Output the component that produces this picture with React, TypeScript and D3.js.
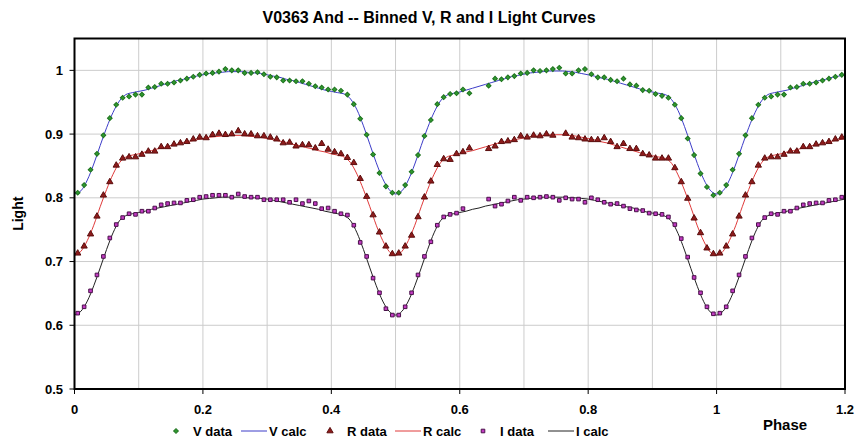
import React, { useEffect, useRef } from 'react';
import * as d3 from 'd3';

// binned observations, one value per 0.01 phase bin (bin centres 0.005 .. 0.995)
const vData = [
  0.808, 0.820, 0.844, 0.869, 0.898, 0.925, 0.946, 0.957, 0.959, 0.962,
  0.962, 0.973, 0.974, 0.979, 0.979, 0.981, 0.984, 0.987, 0.990, 0.993,
  0.995, 0.996, 0.998, 1.002, 1.000, 1.000, 0.996, 0.996, 0.997, 0.994,
  0.990, 0.989, 0.984, 0.984, 0.983, 0.983, 0.979, 0.975, 0.973, 0.970,
  0.970, 0.968, 0.962, 0.947, 0.924, 0.899, 0.868, 0.839, 0.818, 0.808,
  0.808, 0.820, 0.841, 0.867, 0.897, 0.922, 0.947, 0.958, 0.963, 0.964,
  0.970, 0.964, null, null, 0.976, 0.987, 0.986, 0.989, 0.991, 0.995,
  0.996, 1.000, 0.999, 1.000, 1.002, 1.004, 0.995, 0.995, 1.000, 1.002,
  0.994, 0.989, 0.989, 0.985, 0.983, 0.987, 0.978, 0.976, 0.969, 0.968,
  0.963, 0.960, 0.957, 0.946, 0.925, 0.893, 0.867, 0.838, 0.817, 0.804,
];
const rData = [
  0.713, 0.724, 0.743, 0.771, 0.804, 0.825, 0.851, 0.862, 0.864, 0.864,
  0.868, 0.873, 0.873, 0.880, 0.880, 0.884, 0.886, 0.888, 0.892, 0.895,
  0.894, 0.899, 0.901, 0.899, 0.900, 0.905, 0.900, 0.900, 0.897, 0.897,
  0.895, 0.892, 0.886, 0.887, 0.881, 0.883, 0.883, 0.878, 0.885, 0.876,
  0.872, 0.869, 0.863, 0.855, 0.830, 0.802, 0.773, 0.746, 0.724, 0.712,
  0.713, 0.724, 0.741, 0.770, 0.801, 0.826, 0.852, 0.861, 0.860, 0.869,
  0.872, 0.878, null, null, 0.877, 0.881, 0.888, 0.889, 0.891, 0.897,
  0.895, 0.898, 0.897, 0.900, 0.898, null, 0.901, 0.895, 0.894, 0.892,
  0.891, 0.891, 0.894, 0.888, 0.880, 0.885, 0.877, 0.877, 0.869, 0.867,
  0.862, 0.862, 0.862, 0.847, 0.825, 0.799, 0.768, 0.745, 0.721, 0.712,
];
const iData = [
  0.619, 0.629, 0.654, 0.679, 0.708, 0.737, 0.758, 0.769, 0.775, 0.774,
  0.779, 0.779, 0.784, 0.789, 0.791, 0.792, 0.792, 0.796, 0.797, 0.801,
  0.802, 0.804, 0.804, 0.804, 0.801, 0.806, 0.802, 0.801, 0.801, 0.797,
  0.797, 0.797, 0.797, 0.793, 0.797, 0.791, 0.795, 0.791, 0.783, 0.784,
  0.779, 0.775, 0.773, 0.757, 0.730, 0.708, 0.674, 0.651, 0.626, 0.616,
  0.616, 0.629, 0.651, 0.679, 0.708, 0.731, 0.757, 0.770, 0.774, 0.776,
  0.783, null, null, null, 0.798, 0.787, 0.790, 0.795, 0.801, 0.796,
  0.801, 0.800, 0.801, 0.802, 0.801, 0.796, 0.800, 0.798, 0.798, 0.793,
  0.800, 0.797, 0.793, 0.790, 0.791, 0.787, 0.783, 0.781, 0.780, 0.776,
  0.775, 0.774, 0.770, 0.758, 0.736, 0.707, 0.675, 0.651, 0.629, 0.618,
];

// model light curves at phase 0.00 .. 1.00, step 0.01
const vCalc = [
  0.806, 0.811, 0.828, 0.853, 0.882, 0.910, 0.934, 0.952, 0.962, 0.965,
  0.967, 0.969, 0.972, 0.975, 0.978, 0.981, 0.984, 0.986, 0.989, 0.991,
  0.993, 0.995, 0.996, 0.997, 0.998, 0.998, 0.998, 0.997, 0.996, 0.995,
  0.993, 0.991, 0.989, 0.986, 0.984, 0.981, 0.978, 0.975, 0.972, 0.969,
  0.967, 0.965, 0.963, 0.955, 0.938, 0.913, 0.884, 0.855, 0.830, 0.813,
  0.806, 0.811, 0.828, 0.853, 0.882, 0.910, 0.934, 0.952, 0.961, 0.964,
  0.966, 0.969, 0.972, 0.975, 0.978, 0.981, 0.984, 0.987, 0.990, 0.992,
  0.994, 0.996, 0.997, 0.998, 0.999, 0.999, 0.999, 0.998, 0.997, 0.995,
  0.993, 0.991, 0.988, 0.986, 0.983, 0.980, 0.977, 0.974, 0.971, 0.968,
  0.966, 0.964, 0.962, 0.954, 0.937, 0.912, 0.883, 0.854, 0.829, 0.812,
  0.806,
];
const rCalc = [
  0.710, 0.716, 0.733, 0.757, 0.786, 0.813, 0.837, 0.855, 0.864, 0.867,
  0.869, 0.872, 0.874, 0.877, 0.879, 0.882, 0.884, 0.887, 0.889, 0.891,
  0.893, 0.895, 0.896, 0.897, 0.898, 0.898, 0.898, 0.897, 0.896, 0.895,
  0.893, 0.891, 0.889, 0.887, 0.884, 0.882, 0.879, 0.877, 0.874, 0.872,
  0.869, 0.867, 0.864, 0.855, 0.837, 0.813, 0.786, 0.757, 0.733, 0.716,
  0.710, 0.716, 0.733, 0.757, 0.786, 0.813, 0.837, 0.855, 0.864, 0.867,
  0.869, 0.872, 0.874, 0.877, 0.880, 0.883, 0.886, 0.888, 0.890, 0.892,
  0.894, 0.896, 0.897, 0.898, 0.899, 0.899, 0.899, 0.898, 0.897, 0.895,
  0.893, 0.891, 0.888, 0.886, 0.883, 0.880, 0.877, 0.874, 0.871, 0.868,
  0.866, 0.864, 0.862, 0.854, 0.836, 0.812, 0.785, 0.756, 0.732, 0.715,
  0.710,
];
const iCalc = [
  0.616, 0.622, 0.638, 0.662, 0.690, 0.719, 0.745, 0.764, 0.772, 0.775,
  0.777, 0.779, 0.782, 0.784, 0.786, 0.788, 0.790, 0.792, 0.794, 0.796,
  0.798, 0.799, 0.800, 0.801, 0.801, 0.801, 0.801, 0.800, 0.800, 0.799,
  0.798, 0.796, 0.794, 0.792, 0.790, 0.788, 0.786, 0.784, 0.782, 0.779,
  0.777, 0.775, 0.772, 0.764, 0.745, 0.719, 0.690, 0.662, 0.638, 0.622,
  0.616, 0.622, 0.638, 0.662, 0.690, 0.719, 0.745, 0.764, 0.772, 0.775,
  0.777, 0.779, 0.782, 0.784, 0.787, 0.789, 0.791, 0.793, 0.795, 0.797,
  0.798, 0.799, 0.800, 0.801, 0.801, 0.801, 0.801, 0.800, 0.800, 0.799,
  0.798, 0.796, 0.794, 0.792, 0.790, 0.788, 0.786, 0.784, 0.781, 0.778,
  0.776, 0.774, 0.771, 0.763, 0.744, 0.718, 0.689, 0.661, 0.637, 0.621,
  0.616,
];

const binStep = 0.01;
const xTicks = [0, 0.2, 0.4, 0.6, 0.8, 1, 1.2];
const yTicks = [0.5, 0.6, 0.7, 0.8, 0.9, 1];
const xGrid = [0.1, 0.2, 0.3, 0.4, 0.5, 0.6, 0.7, 0.8, 0.9, 1, 1.1];
const yGrid = [0.6, 0.7, 0.8, 0.9, 1];

const FONT = '"Liberation Sans", Arial, sans-serif';
const W = 858, H = 444;
const plot = { left: 74.5, right: 845, top: 38.5, bottom: 389 };

// the phased plot repeats the first 0.2 of the cycle after phase 1
const extendData = (vals: (number | null)[]) =>
  vals.concat(vals.slice(0, 20)).map((v, i) => ({ p: binStep / 2 + i * binStep, v }));
const extendCalc = (vals: number[]) =>
  vals.concat(vals.slice(1, 21)).map((v, i) => ({ p: i * binStep, v }));

const series = [
  { name: 'V', data: extendData(vData), calc: extendCalc(vCalc), sym: d3.symbolSquare, rot: 45, size: 11, fill: '#2f9a2f', stroke: '#1f731f', line: '#3c3cc8' },
  { name: 'R', data: extendData(rData), calc: extendCalc(rCalc), sym: d3.symbolTriangle, rot: 0, size: 17, fill: '#8e1b1b', stroke: '#5a0d0d', line: '#e03a3a' },
  { name: 'I', data: extendData(iData), calc: extendCalc(iCalc), sym: d3.symbolSquare, rot: 0, size: 13, fill: '#c23ac2', stroke: '#4a124a', line: '#222222' },
];

const App: React.FC = () => {
  const svgRef = useRef<SVGSVGElement>(null);

  useEffect(() => {
    if (!svgRef.current) return;
    const svg = d3.select(svgRef.current);
    svg.selectAll('*').remove();

    const x = d3.scaleLinear().domain([0, 1.2]).range([plot.left, plot.right]);
    const y = d3.scaleLinear().domain([0.5, 1.05]).range([plot.bottom, plot.top]);

    svg.append('rect').attr('width', W).attr('height', H).attr('fill', '#fff');

    // grid
    const grid = svg.append('g').attr('stroke', '#cccccc').attr('stroke-width', 1);
    grid.selectAll('line.gx').data(xGrid).join('line')
      .attr('x1', d => x(d)).attr('x2', d => x(d))
      .attr('y1', plot.top).attr('y2', plot.bottom);
    grid.selectAll('line.gy').data(yGrid).join('line')
      .attr('x1', plot.left).attr('x2', plot.right)
      .attr('y1', d => y(d)).attr('y2', d => y(d));

    // calc curves
    const line = d3.line<{ p: number; v: number }>()
      .x(d => x(d.p)).y(d => y(d.v))
      .curve(d3.curveMonotoneX);
    series.forEach(s => {
      svg.append('path')
        .attr('d', line(s.calc))
        .attr('fill', 'none')
        .attr('stroke', s.line)
        .attr('stroke-width', 1);
    });

    // data markers
    series.forEach(s => {
      const sym = d3.symbol().type(s.sym).size(s.size);
      svg.append('g').selectAll('path')
        .data(s.data.filter(d => d.v != null))
        .join('path')
        .attr('transform', d => `translate(${x(d.p)},${y(d.v as number)}) rotate(${s.rot})`)
        .attr('d', sym())
        .attr('fill', s.fill)
        .attr('stroke', s.stroke)
        .attr('stroke-width', 1);
    });

    // frame
    svg.append('rect')
      .attr('x', plot.left).attr('y', plot.top)
      .attr('width', plot.right - plot.left).attr('height', plot.bottom - plot.top)
      .attr('fill', 'none').attr('stroke', '#000').attr('stroke-width', 2);

    // ticks and labels
    const axes = svg.append('g').attr('font-family', FONT).attr('font-weight', 'bold').attr('fill', '#000');
    axes.selectAll('line.tx').data(xTicks).join('line')
      .attr('x1', d => x(d)).attr('x2', d => x(d))
      .attr('y1', plot.bottom).attr('y2', plot.bottom + 5)
      .attr('stroke', '#000');
    axes.selectAll('text.tx').data(xTicks).join('text')
      .attr('x', d => x(d)).attr('y', 414)
      .attr('text-anchor', 'middle').attr('font-size', 13)
      .text(d => String(d));
    axes.selectAll('line.ty').data(yTicks).join('line')
      .attr('x1', plot.left - 5).attr('x2', plot.left)
      .attr('y1', d => y(d)).attr('y2', d => y(d))
      .attr('stroke', '#000');
    axes.selectAll('text.ty').data(yTicks).join('text')
      .attr('x', 63).attr('y', d => y(d) + 4.5)
      .attr('text-anchor', 'end').attr('font-size', 13)
      .text(d => String(d));

    svg.append('text')
      .attr('x', 429).attr('y', 23)
      .attr('text-anchor', 'middle')
      .attr('font-family', FONT).attr('font-weight', 'bold').attr('font-size', 16)
      .text('V0363 And -- Binned V, R and I Light Curves');
    svg.append('text')
      .attr('transform', `translate(23,${(plot.top + plot.bottom) / 2}) rotate(-90)`)
      .attr('text-anchor', 'middle')
      .attr('font-family', FONT).attr('font-weight', 'bold').attr('font-size', 14)
      .text('Light');
    svg.append('text')
      .attr('x', 785).attr('y', 430)
      .attr('text-anchor', 'middle')
      .attr('font-family', FONT).attr('font-weight', 'bold').attr('font-size', 15)
      .text('Phase');

    // legend
    const legend = svg.append('g').attr('font-family', FONT).attr('font-weight', 'bold').attr('font-size', 13);
    const ly = 431;
    const legendX = [176, 330, 483];
    series.forEach((s, i) => {
      const lx = legendX[i];
      legend.append('path')
        .attr('transform', `translate(${lx},${ly}) rotate(${s.rot})`)
        .attr('d', d3.symbol().type(s.sym).size(s.size)())
        .attr('fill', s.fill).attr('stroke', s.stroke).attr('stroke-width', 1);
      legend.append('text').attr('x', lx + 17).attr('y', ly + 5).text(`${s.name} data`);
      const l0 = lx + 65;
      legend.append('line')
        .attr('x1', l0).attr('x2', l0 + 26).attr('y1', ly).attr('y2', ly)
        .attr('stroke', s.line).attr('stroke-width', 1);
      legend.append('text').attr('x', l0 + 28).attr('y', ly + 5).text(`${s.name} calc`);
    });
  }, []);

  return (
    <svg ref={svgRef} width={W} height={H}
      style={{ position: 'fixed', left: 0, top: 0, display: 'block' }} />
  );
};

export default App;
